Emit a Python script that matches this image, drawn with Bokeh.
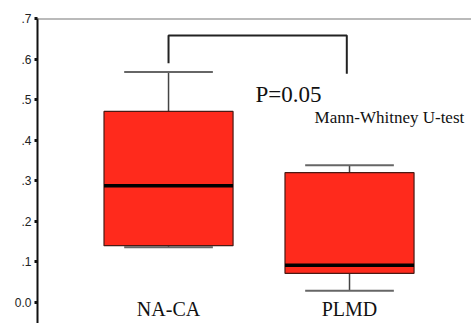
import numpy as np
from bokeh.plotting import figure
from bokeh.models import Range1d, FixedTicker, CustomJSTickFormatter, Span, ColumnDataSource
from bokeh.core.properties import value
from bokeh.embed import file_html
from bokeh.resources import INLINE

# ---- data ----
categories = ["NA-CA", "PLMD"]
lower_whisker = [0.136, 0.029]
q1 = [0.140, 0.072]
median = [0.288, 0.092]
q3 = [0.471, 0.320]
upper_whisker = [0.568, 0.338]
y_ticks = [0.0, 0.1, 0.2, 0.3, 0.4, 0.5, 0.6, 0.7]
bracket_top = 0.658
bracket_left_end = 0.590
bracket_right_end = 0.564
p_text = "P=0.05"
test_text = "Mann-Whitney U-test"

x = np.arange(1, len(categories) + 1, dtype=float)
box_w = 0.713
cap_w = 0.49

p = figure(width=471, height=323, output_backend="svg", toolbar_location=None,
           x_range=Range1d(0.276, 2.674), y_range=Range1d(-0.0518, 0.7),
           x_axis_location=None, min_border_left=37, min_border_right=0,
           min_border_top=18, min_border_bottom=0)
p.grid.visible = False
p.outline_line_color = None
p.background_fill_color = "white"

ax = p.yaxis[0]
ax.ticker = FixedTicker(ticks=y_ticks)
ax.formatter = CustomJSTickFormatter(code="return tick == 0 ? '0.0' : tick.toFixed(1).replace(/^0/, '');")
ax.axis_line_color = "#111111"
ax.axis_line_width = 2
ax.major_tick_line_color = "#111111"
ax.major_tick_line_width = 3
ax.major_tick_in = 0
ax.major_tick_out = 3
ax.minor_tick_line_color = None
ax.major_label_standoff = 3
ax.major_label_text_font = "Liberation Sans"
ax.major_label_text_font_size = "12px"
ax.major_label_text_color = "#222222"

p.add_layout(Span(location=y_ticks[-1], dimension="width", line_color="#777777", line_width=2))

src = ColumnDataSource(dict(x=x, lw=lower_whisker, q1=q1, med=median, q3=q3, uw=upper_whisker,
                            x0=x - box_w / 2, x1=x + box_w / 2,
                            c0=x - cap_w / 2, c1=x + cap_w / 2))

# whiskers
p.segment(x0="x", y0="q3", x1="x", y1="uw", source=src, line_color="#444444", line_width=1.5)
p.segment(x0="x", y0="q1", x1="x", y1="lw", source=src, line_color="#444444", line_width=1.5)
p.segment(x0="c0", y0="uw", x1="c1", y1="uw", source=src, line_color="#666666", line_width=2)
p.segment(x0="c0", y0="lw", x1="c1", y1="lw", source=src, line_color="#666666", line_width=2)
# boxes
p.vbar(x="x", width=box_w, bottom="q1", top="q3", source=src,
       fill_color="#ff2a1c", line_color="#4a1a14", line_width=1.2)
# medians
p.segment(x0="x0", y0="med", x1="x1", y1="med", source=src, line_color="black", line_width=3.5)

# bracket
p.line(x=[x[0], x[0], x[1] - 0.015, x[1] - 0.015],
       y=[bracket_left_end, bracket_top, bracket_top, bracket_right_end],
       line_color="#222222", line_width=2)

p.text(x=[1.48], y=[0.513], text=[p_text], text_font=value("Liberation Serif"),
       text_font_size="23px", text_color="#111111", text_baseline="alphabetic")
p.text(x=[1.807], y=[0.455], text=[test_text], text_font=value("Liberation Serif"),
       text_font_size="17px", text_color="#111111", text_baseline="alphabetic")

# category labels
p.text(x=x, y=[-0.042] * len(categories), text=categories, text_font=value("Liberation Serif"),
       text_font_size="20px", text_color="#111111", text_align="center", text_baseline="bottom")

open("out.html", "w").write(file_html(p, INLINE))
